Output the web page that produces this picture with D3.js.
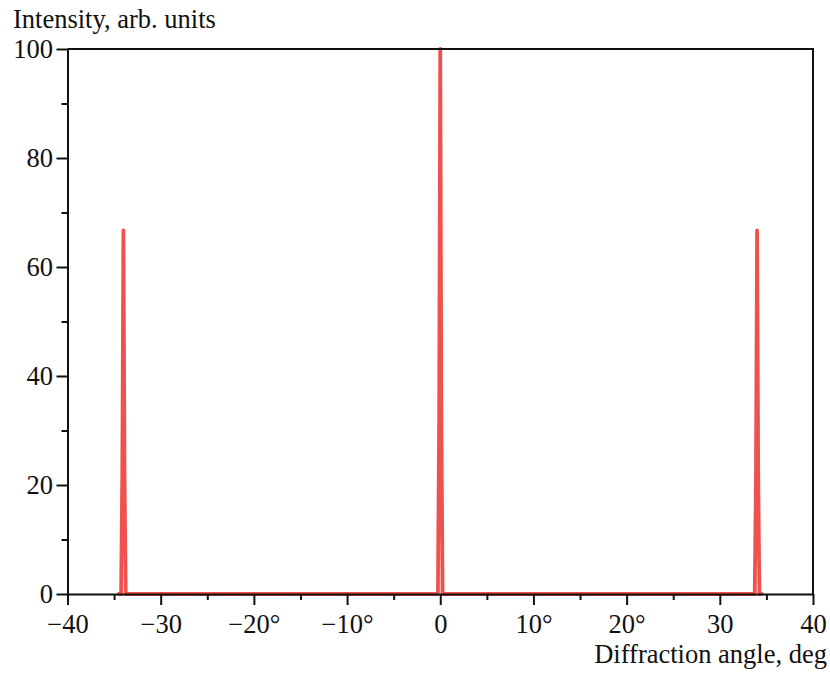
<!DOCTYPE html>
<html>
<head>
<meta charset="utf-8">
<script src="https://cdn.jsdelivr.net/npm/d3@7"></script>
<style>
  html, body { margin: 0; padding: 0; background: #fff; }
  svg text { font-family: "Liberation Serif", "Times New Roman", serif; fill: #111; }
</style>
</head>
<body>
<svg id="chart" width="830" height="673"></svg>
<script>
// Diffraction pattern: intensity vs. diffraction angle
const angles = [-34.5, -34.25, -34.12, -34.0, -33.88, -33.75, -33.5,
                -0.5, -0.25, -0.12, 0, 0.12, 0.25, 0.5,
                33.5, 33.75, 33.88, 34.0, 34.12, 34.25, 34.5];
const intensity = [0, 0, 22, 66.7, 22, 0, 0,
                   0, 0, 32, 100, 32, 0, 0,
                   0, 0, 22, 66.7, 22, 0, 0];

const xMajorTicks = [-40, -30, -20, -10, 0, 10, 20, 30, 40];
const xTickLabels = ["\u221240", "\u221230", "\u221220\u00b0", "\u221210\u00b0", "0", "10\u00b0", "20\u00b0", "30", "40"];
const xMinorTicks = [-35, -25, -15, -5, 5, 15, 25, 35];
const yMajorTicks = [0, 20, 40, 60, 80, 100];
const yMinorTicks = [10, 30, 50, 70, 90];

const xTitle = "Diffraction angle, deg";
const yTitle = "Intensity, arb. units";

const fontSize = 26.5;
const svg = d3.select("#chart");
const plotLeft = 67.5, plotRight = 813, plotTop = 49, plotBottom = 594;

const x = d3.scaleLinear().domain([-40, 40]).range([plotLeft, plotRight]);
const y = d3.scaleLinear().domain([0, 100]).range([plotBottom, plotTop]);

const points = angles.map((a, i) => [a, intensity[i]]);

// curve
svg.append("path")
  .datum(points)
  .attr("fill", "none")
  .attr("stroke", "#ef524e")
  .attr("stroke-width", 3.8)
  .attr("stroke-linejoin", "round")
  .attr("stroke-linecap", "round")
  .attr("d", d3.line().x(d => x(d[0])).y(d => y(d[1])));

// bottom axis: major ticks with labels, minor ticks without
svg.append("g")
  .attr("transform", `translate(0,${plotBottom})`)
  .call(d3.axisBottom(x).tickValues(xMajorTicks)
    .tickFormat((d, i) => xTickLabels[i]).tickSize(11).tickSizeOuter(0).tickPadding(9));
svg.append("g")
  .attr("transform", `translate(0,${plotBottom})`)
  .call(d3.axisBottom(x).tickValues(xMinorTicks).tickFormat("").tickSize(6).tickSizeOuter(0))
  .select(".domain").remove();

// left axis
svg.append("g")
  .attr("transform", `translate(${plotLeft},0)`)
  .call(d3.axisLeft(y).tickValues(yMajorTicks).tickSize(11).tickSizeOuter(0).tickPadding(3.5));
svg.append("g")
  .attr("transform", `translate(${plotLeft},0)`)
  .call(d3.axisLeft(y).tickValues(yMinorTicks).tickFormat("").tickSize(6).tickSizeOuter(0))
  .select(".domain").remove();

svg.selectAll(".domain, .tick line")
  .attr("stroke", "#111")
  .attr("stroke-width", 2);
svg.selectAll(".tick text")
  .attr("font-family", "Liberation Serif, Times New Roman, serif")
  .attr("font-size", fontSize)
  .attr("fill", "#111");

// frame: top and right edges
svg.append("path")
  .attr("d", `M${plotLeft},${plotTop}H${plotRight}V${plotBottom}`)
  .attr("fill", "none")
  .attr("stroke", "#111")
  .attr("stroke-width", 2);

// axis titles
svg.append("text")
  .attr("x", 13).attr("y", 28)
  .attr("font-size", fontSize)
  .text(yTitle);
svg.append("text")
  .attr("x", 827).attr("y", 663)
  .attr("text-anchor", "end")
  .attr("font-size", fontSize)
  .text(xTitle);
</script>
</body>
</html>
